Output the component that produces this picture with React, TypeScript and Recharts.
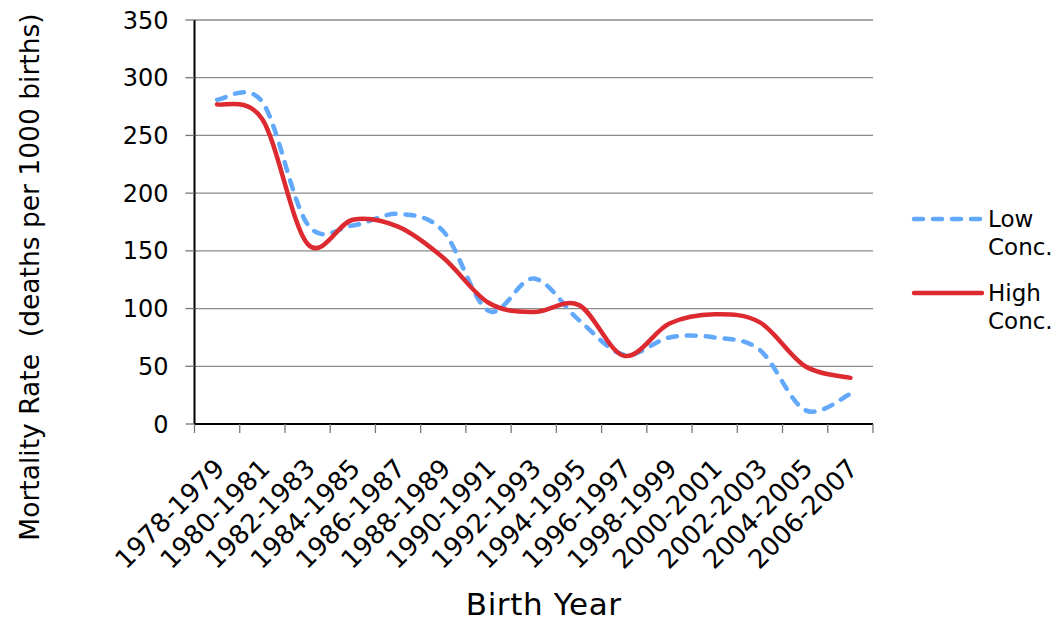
import { LineChart, Line, XAxis, YAxis, CartesianGrid, Legend, Label } from "recharts";

// birth year groups (one category each)
const categories = [
  "1978-1979",
  "1980-1981",
  "1982-1983",
  "1984-1985",
  "1986-1987",
  "1988-1989",
  "1990-1991",
  "1992-1993",
  "1994-1995",
  "1996-1997",
  "1998-1999",
  "2000-2001",
  "2002-2003",
  "2004-2005",
  "2006-2007",
];

// mortality rate, deaths per 1000 births
const lowConc = [281, 279, 173, 172, 182, 167, 98, 126, 90, 60, 75, 75, 64, 12, 26];
const highConc = [277, 264, 156, 177, 171, 144, 105, 97, 103, 59, 87, 95, 88, 50, 40];

const yTicks = [0, 50, 100, 150, 200, 250, 300, 350];

const data = categories.map((name, i) => ({
  pos: i + 0.5,
  name,
  low: lowConc[i],
  high: highConc[i],
}));

// tick marks sit between categories, like the original
const boundaryTicks = categories.map((_, i) => i).concat(categories.length);

const FONT = '"DejaVu Sans", Verdana, sans-serif';
const W = 1044;
const H = 615;
const PLOT_W = 678.5;
const BLUE = "#62a9fb";
const RED = "#dc2a30";

// Excel style smoothed line (cardinal / catmull-rom bezier)
const excelSmooth = (context: any) => {
  let pts: number[][] = [];
  return {
    areaStart() {},
    areaEnd() {},
    lineStart() {
      pts = [];
    },
    point(x: number, y: number) {
      pts.push([+x, +y]);
    },
    lineEnd() {
      const n = pts.length;
      if (!n) return;
      context.moveTo(pts[0][0], pts[0][1]);
      for (let i = 0; i < n - 1; i++) {
        const p0 = pts[Math.max(i - 1, 0)];
        const p1 = pts[i];
        const p2 = pts[i + 1];
        const p3 = pts[Math.min(i + 2, n - 1)];
        context.bezierCurveTo(
          p1[0] + (p2[0] - p0[0]) / 6,
          p1[1] + (p2[1] - p0[1]) / 6,
          p2[0] - (p3[0] - p1[0]) / 6,
          p2[1] - (p3[1] - p1[1]) / 6,
          p2[0],
          p2[1]
        );
      }
    },
  };
};

function CategoryTick(props: any) {
  const { x, y, payload, width } = props;
  const idx = Number(payload.value);
  if (idx >= categories.length) return null;
  const band = (width || PLOT_W) / categories.length;
  const ax = x + band / 2 + 9;
  const ay = y + 35;
  return (
    <text
      x={ax}
      y={ay}
      transform={`rotate(-45 ${ax} ${ay})`}
      textAnchor="end"
      fontSize={26}
      fontFamily={FONT}
      fill="#000"
    >
      {categories[idx]}
    </text>
  );
}

function XTitle(props: any) {
  const vb = props.viewBox;
  return (
    <text
      x={vb.x + vb.width / 2 + 10}
      y={vb.y + vb.height - 8}
      textAnchor="middle"
      fontSize={31}
      letterSpacing={0.6}
      fontFamily={FONT}
      fill="#000"
    >
      Birth Year
    </text>
  );
}

function YTitle(props: any) {
  const vb = props.viewBox;
  const cx = 31;
  const cy = vb.y + vb.height / 2 + 55;
  return (
    <text
      x={cx}
      y={cy}
      transform={`rotate(-90 ${cx} ${cy})`}
      textAnchor="middle"
      fontSize={26.5}
      fontFamily={FONT}
      fill="#000"
      style={{ whiteSpace: "pre" }}
    >
      Mortality Rate  (deaths per 1000 births)
    </text>
  );
}

function LegendContent() {
  const items = [
    { label: ["Low", "Conc."], color: BLUE, dash: "9 10" },
    { label: ["High", "Conc."], color: RED, dash: undefined },
  ];
  return (
    <div style={{ width: 140, fontFamily: FONT, fontSize: 23, lineHeight: "28px", color: "#000" }}>
      {items.map((it, i) => (
        <div key={i} style={{ display: "flex", alignItems: "flex-start", marginBottom: i === 0 ? 18 : 0 }}>
          <svg width={80} height={28} style={{ display: "block", flexShrink: 0 }}>
            <line
              x1={6}
              y1={14}
              x2={74}
              y2={14}
              stroke={it.color}
              strokeWidth={4.5}
              strokeDasharray={it.dash}
              strokeLinecap="round"
            />
          </svg>
          <div>
            {it.label.map((t) => (
              <div key={t}>{t}</div>
            ))}
          </div>
        </div>
      ))}
    </div>
  );
}

export default function App() {
  return (
    <div style={{ width: W, height: H }}>
      <LineChart
        width={W}
        height={H}
        data={data}
        margin={{ top: 12, right: 39, bottom: 0, left: 0 }}
        style={{ fontFamily: FONT }}
      >
        <CartesianGrid vertical={false} stroke="#8c8c8c" strokeWidth={1.3} />
        <XAxis
          dataKey="pos"
          type="number"
          domain={[0, categories.length]}
          ticks={boundaryTicks}
          interval={0}
          height={199}
          tickSize={9}
          tickLine={{ stroke: "#777", strokeWidth: 1.3 }}
          axisLine={{ stroke: "#000", strokeWidth: 2 }}
          tick={<CategoryTick />}
        >
          <Label content={<XTitle />} />
        </XAxis>
        <YAxis
          domain={[0, 350]}
          ticks={yTicks}
          interval={0}
          width={186.5}
          tickSize={9}
          tickMargin={17}
          tickLine={{ stroke: "#777", strokeWidth: 1.3 }}
          axisLine={{ stroke: "#000", strokeWidth: 2 }}
          tick={{ fill: "#000", fontSize: 24, fontFamily: FONT }}
        >
          <Label content={<YTitle />} />
        </YAxis>
        <YAxis
          yAxisId="frame"
          orientation="right"
          width={0}
          tick={false}
          tickLine={false}
          axisLine={{ stroke: "#8c8c8c", strokeWidth: 1.5 }}
        />
        <Legend
          layout="vertical"
          align="right"
          verticalAlign="top"
          content={<LegendContent />}
          wrapperStyle={{ left: 900, top: 197 }}
        />
        <Line
          dataKey="low"
          name="Low Conc."
          type={excelSmooth as any}
          stroke={BLUE}
          strokeWidth={4.5}
          strokeDasharray="9 10"
          strokeLinecap="round"
          dot={false}
          activeDot={false}
          isAnimationActive={false}
        />
        <Line
          dataKey="high"
          name="High Conc."
          type={excelSmooth as any}
          stroke={RED}
          strokeWidth={4.5}
          strokeLinecap="round"
          dot={false}
          activeDot={false}
          isAnimationActive={false}
        />
      </LineChart>
    </div>
  );
}
